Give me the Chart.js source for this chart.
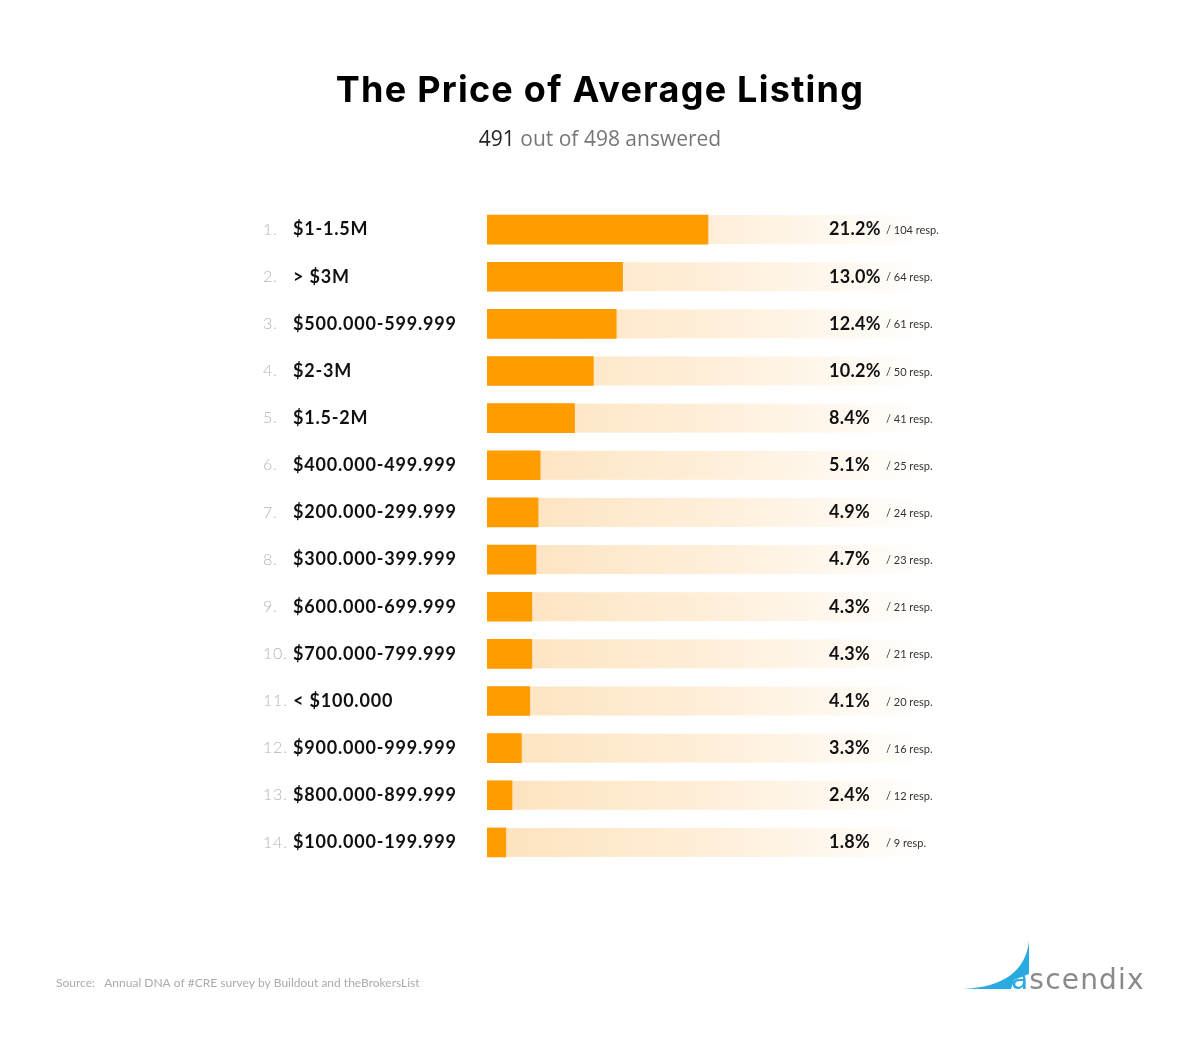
<!DOCTYPE html>
<html>
<head>
<meta charset="utf-8">
<script src="https://cdn.jsdelivr.net/npm/chart.js@4.4.1/dist/chart.umd.min.js"></script>
<style>
  html, body { margin: 0; padding: 0; background: #ffffff; }
  #wrap { width: 1200px; height: 1059px; position: relative; }
  canvas { display: block; }
</style>
</head>
<body>
<div id="wrap"><canvas id="c" width="1200" height="1059"></canvas></div>
<script>
// ---- Data ----
const categories = ['$1-1.5M', '> $3M', '$500.000-599.999', '$2-3M', '$1.5-2M', '$400.000-499.999', '$200.000-299.999', '$300.000-399.999', '$600.000-699.999', '$700.000-799.999', '< $100.000', '$900.000-999.999', '$800.000-899.999', '$100.000-199.999'];
const ranks = ['1.', '2.', '3.', '4.', '5.', '6.', '7.', '8.', '9.', '10.', '11.', '12.', '13.', '14.'];
const percentages = [21.2, 13.0, 12.4, 10.2, 8.4, 5.1, 4.9, 4.7, 4.3, 4.3, 4.1, 3.3, 2.4, 1.8];
const responses = [104, 64, 61, 50, 41, 25, 24, 23, 21, 21, 20, 16, 12, 9];
const titleText = 'The Price of Average Listing';
const answeredCount = '491';
const subtitleRest = ' out of 498 answered';
const sourceText = 'Source:   Annual DNA of #CRE survey by Buildout and theBrokersList';

const ORANGE = '#ff9c00';

const overlayPlugin = {
  id: 'overlay',
  beforeDraw(chart) {
    // slightly wider lettering for axis labels
    chart.ctx.letterSpacing = '0.8px';
  },
  beforeDatasetsDraw(chart) {
    const ctx = chart.ctx;
    ctx.letterSpacing = '0px';
    const area = chart.chartArea;
    const meta = chart.getDatasetMeta(0);
    ctx.save();
    const g = ctx.createLinearGradient(area.left, 0, area.right, 0);
    g.addColorStop(0, '#fde2bd');
    g.addColorStop(0.55, '#fff0dc');
    g.addColorStop(1, '#ffffff');
    ctx.fillStyle = g;
    meta.data.forEach(bar => {
      ctx.fillRect(area.left, bar.y - bar.height / 2, area.right - area.left, bar.height);
    });
    ctx.restore();
  },
  afterDatasetsDraw(chart) {
    const ctx = chart.ctx;
    const meta = chart.getDatasetMeta(0);
    ctx.save();
    ctx.textBaseline = 'middle';
    meta.data.forEach((bar, i) => {
      ctx.font = 'bold 18px Lato';
      ctx.letterSpacing = '0.3px';
      ctx.fillStyle = '#111111';
      ctx.textAlign = 'left';
      ctx.fillText(percentages[i].toFixed(1) + '%', 829, bar.y);
      ctx.letterSpacing = '0px';
      ctx.font = '11px Lato';
      ctx.fillStyle = '#333333';
      ctx.fillText('/ ' + responses[i] + ' resp.', 886, bar.y + 1);
    });
    ctx.restore();
  },
  afterDraw(chart) {
    const ctx = chart.ctx;
    ctx.save();
    // Title
    ctx.textAlign = 'center';
    ctx.textBaseline = 'alphabetic';
    ctx.fillStyle = '#000000';
    ctx.font = 'bold 36px Inter';
    ctx.letterSpacing = '1.25px';
    ctx.fillText(titleText, 600, 102);
    ctx.letterSpacing = '0px';
    // Subtitle (two colours)
    ctx.font = '21px "Open Sans"';
    const w1 = ctx.measureText(answeredCount).width;
    const w2 = ctx.measureText(subtitleRest).width;
    let x0 = 600 - (w1 + w2) / 2;
    ctx.textAlign = 'left';
    ctx.fillStyle = '#222222';
    ctx.fillText(answeredCount, x0, 146);
    ctx.fillStyle = '#777777';
    ctx.fillText(subtitleRest, x0 + w1, 146);
    // Source
    ctx.font = '12px Lato';
    ctx.fillStyle = '#ababab';
    ctx.fillText(sourceText, 56, 987);
    // Logo swoosh
    ctx.fillStyle = '#29abe2';
    ctx.beginPath();
    ctx.moveTo(963, 989);
    ctx.quadraticCurveTo(1024, 986, 1029, 941);
    ctx.lineTo(1029, 974);
    ctx.lineTo(1014, 980);
    ctx.lineTo(1011, 989);
    ctx.closePath();
    ctx.fill();
    // Logo text
    ctx.font = '28px "DejaVu Sans"';
    ctx.letterSpacing = '1.2px';
    ctx.textBaseline = 'alphabetic';
    ctx.fillStyle = '#29abe2';
    ctx.fillText('a', 1011, 989);
    const wa = ctx.measureText('a').width;
    ctx.fillStyle = '#8a8a8a';
    ctx.fillText('scendix', 1011 + wa, 989);
    ctx.restore();
  }
};

new Chart(document.getElementById('c'), {
  type: 'bar',
  data: {
    labels: categories,
    datasets: [{
      data: percentages,
      backgroundColor: ORANGE,
      borderWidth: 0,
      barThickness: 29,
      yAxisID: 'y'
    }]
  },
  options: {
    indexAxis: 'y',
    responsive: false,
    animation: false,
    devicePixelRatio: 1,
    layout: { padding: { left: 263, right: 270, top: 206, bottom: 193 } },
    plugins: { legend: { display: false }, tooltip: { enabled: false }, title: { display: false } },
    scales: {
      x: { display: false, min: 0, max: 42.5 },
      y: {
        type: 'category',
        position: 'left',
        weight: 0,
        offset: true,
        grid: { display: false },
        border: { display: false },
        ticks: { crossAlign: 'far', padding: 0, color: '#111111', font: { family: 'Lato', weight: 'bold', size: 18 } },
        afterFit(scale) { scale.width = 194; }
      },
      y2: {
        type: 'category',
        labels: ranks,
        position: 'left',
        weight: 1,
        offset: true,
        grid: { display: false },
        border: { display: false },
        ticks: { crossAlign: 'far', padding: 0, color: '#b5b5b5', font: { family: 'Lato', weight: '300', size: 16 } },
        afterFit(scale) { scale.width = 30; }
      }
    }
  },
  plugins: [overlayPlugin]
});
</script>
</body>
</html>
